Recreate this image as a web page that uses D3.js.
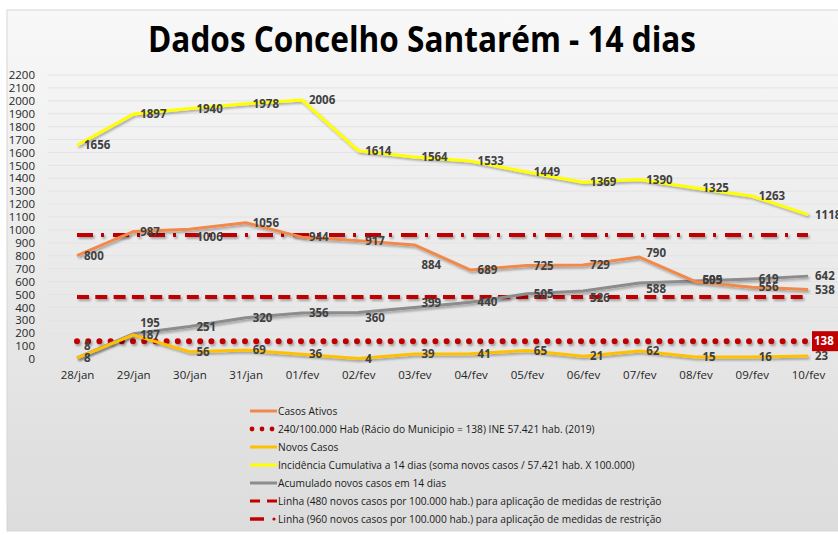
<!DOCTYPE html>
<html>
<head>
<meta charset="utf-8">
<script src="https://cdn.jsdelivr.net/npm/d3@7"></script>
<style>
  html, body { margin: 0; padding: 0; background: #fff; }
  svg { display: block; }
  text { font-family: "Open Sans", sans-serif; }
</style>
</head>
<body>
<svg width="838" height="535"></svg>
<script>
var dias = ["28/jan","29/jan","30/jan","31/jan","01/fev","02/fev","03/fev","04/fev","05/fev","06/fev","07/fev","08/fev","09/fev","10/fev"];
var incidencia = [1656,1897,1940,1978,2006,1614,1564,1533,1449,1369,1390,1325,1263,1118];
var casosAtivos = [800,987,1006,1056,944,917,884,689,725,729,790,599,556,538];
var acumulado = [8,195,251,320,356,360,399,440,505,526,588,605,619,642];
var novosCasos = [8,187,56,69,36,4,39,41,65,21,62,15,16,23];
var yTicks = d3.range(0, 2201, 100);
var racio = 138, linha480 = 480, linha960 = 960;

var legendItems = [
  {kind: "line", color: "#f0894a", text: "Casos Ativos"},
  {kind: "dots", color: "#c00000", text: " 240/100.000 Hab (Rácio do Municipio = 138) INE  57.421 hab. (2019)"},
  {kind: "line", color: "#ffc000", text: "Novos Casos"},
  {kind: "line", color: "#ffff00", text: "Incidência Cumulativa a 14 dias (soma novos casos / 57.421 hab. X 100.000)"},
  {kind: "line", color: "#8c8c8c", text: "Acumulado novos casos em 14 dias"},
  {kind: "dash", color: "#c00000", text: "Linha (480 novos casos por 100.000 hab.) para aplicação de medidas de restrição"},
  {kind: "dashdot", color: "#c00000", text: "Linha (960 novos casos por 100.000 hab.) para aplicação de medidas de restrição"}
];

var svg = d3.select("svg");
var defs = svg.append("defs");

//panel background gradient
var grad = defs.append("linearGradient").attr("id", "bg")
  .attr("x1", 0).attr("y1", 0).attr("x2", 0).attr("y2", 1);
grad.append("stop").attr("offset", "0%").attr("stop-color", "#f8f8f8");
grad.append("stop").attr("offset", "100%").attr("stop-color", "#dcdcdc");

//soft shadow under the lines (user space so flat lines are not clipped)
var shadow = defs.append("filter").attr("id", "sh")
  .attr("filterUnits", "userSpaceOnUse")
  .attr("x", 0).attr("y", 0).attr("width", 838).attr("height", 535);
shadow.append("feDropShadow").attr("dx", 1.5).attr("dy", 2).attr("stdDeviation", 1.2)
  .attr("flood-color", "#000").attr("flood-opacity", 0.3);

svg.append("rect")
  .attr("x", 7).attr("y", 10).attr("width", 840).attr("height", 521)
  .attr("fill", "url(#bg)").attr("stroke", "#d6d6d6");

svg.append("text")
  .attr("x", 422).attr("y", 52)
  .attr("text-anchor", "middle")
  .attr("textLength", 548).attr("lengthAdjust", "spacingAndGlyphs")
  .style("font-size", "35px").style("font-weight", "bold").style("fill", "#000")
  .text("Dados Concelho Santarém - 14 dias");

var x = d3.scalePoint().domain(dias).range([77, 808]);
var y = d3.scaleLinear().domain([0, 2200]).range([359, 75]);

//gridlines
svg.append("g").selectAll("line")
  .data(yTicks.slice(1))
  .enter().append("line")
  .attr("x1", 48).attr("x2", 838)
  .attr("y1", function(d){ return y(d); }).attr("y2", function(d){ return y(d); })
  .attr("stroke", "#e3e3e3").attr("stroke-width", 1);

//y axis labels
var yAxis = svg.append("g").attr("transform", "translate(35,0)")
  .call(d3.axisLeft(y).tickValues(yTicks).tickFormat(d3.format("d")).tickSize(0).tickPadding(0));
yAxis.select(".domain").remove();
yAxis.selectAll("text").style("font-size", "11.5px").style("fill", "#262626")
  .style("font-family", "'Open Sans', sans-serif");

//x axis labels
var xAxis = svg.append("g").attr("transform", "translate(0,371)")
  .call(d3.axisBottom(x).tickSize(0).tickPadding(0));
xAxis.select(".domain").remove();
xAxis.selectAll("text").style("font-size", "11.5px").style("fill", "#262626")
  .style("font-family", "'Open Sans', sans-serif");

//reference lines
function refLine(v, dash, cap, w) {
  svg.append("line")
    .attr("x1", x(dias[0])).attr("x2", x(dias[dias.length - 1]))
    .attr("y1", y(v)).attr("y2", y(v))
    .attr("stroke", "#c00000").attr("stroke-width", w)
    .attr("stroke-dasharray", dash).attr("stroke-linecap", cap)
    .attr("filter", "url(#sh)");
}
refLine(linha960, "16,8,3,9", "butt", 4);
refLine(linha480, "12,6.3", "butt", 4);
refLine(racio, "0,11.2", "round", 6);

var line = d3.line()
  .x(function(d, i){ return x(dias[i]); })
  .y(function(d){ return y(d); });

var series = [
  {name: "acumulado", values: acumulado, color: "#8c8c8c"},
  {name: "ativos", values: casosAtivos, color: "#f0894a"},
  {name: "novos", values: novosCasos, color: "#ffc000"},
  {name: "incidencia", values: incidencia, color: "#ffff00"}
];

series.forEach(function(s){
  svg.append("path")
    .datum(s.values)
    .attr("d", line)
    .attr("fill", "none")
    .attr("stroke", s.color)
    .attr("stroke-width", 3)
    .attr("stroke-linejoin", "round")
    .attr("filter", "url(#sh)");
});

//a few labels were nudged by hand in the original
var nudge = {
  "novos0": -12, "acumulado1": -11, "ativos2": 8, "ativos6": 20, "ativos10": -4,
  "acumulado5": 5, "acumulado6": -5, "acumulado9": 7, "acumulado10": 6,
  "ativos11": -2, "acumulado11": -1
};

//data labels to the right of each point
series.forEach(function(s){
  svg.append("g").selectAll("text")
    .data(s.values)
    .enter().append("text")
    .attr("x", function(d, i){ return x(dias[i]) + 7; })
    .attr("y", function(d, i){ return y(d) + (nudge[s.name + i] || 0); })
    .attr("dy", "0.36em")
    .style("font-size", "11.5px").style("font-weight", "bold").style("fill", "#404040")
    .text(function(d){ return d; });
});

//138 box at right end
svg.append("rect")
  .attr("x", 812).attr("y", y(racio) - 10).attr("width", 27).attr("height", 20)
  .attr("fill", "#c00000");
svg.append("text")
  .attr("x", 814).attr("y", y(racio)).attr("dy", "0.36em")
  .style("font-size", "11.5px").style("font-weight", "bold").style("fill", "#fff")
  .text(racio);

//legend
var legend = svg.append("g").attr("transform", "translate(250,411)");
var rows = legend.selectAll("g")
  .data(legendItems)
  .enter().append("g")
  .attr("transform", function(d, i){ return "translate(0," + (i * 18) + ")"; });

rows.each(function(d){
  var r = d3.select(this);
  if (d.kind === "line") {
    r.append("line").attr("x1", 0).attr("x2", 27).attr("y1", 0).attr("y2", 0)
      .attr("stroke", d.color).attr("stroke-width", 3);
  } else if (d.kind === "dots") {
    [2, 12, 22].forEach(function(cx){
      r.append("circle").attr("cx", cx).attr("cy", 0).attr("r", 2.4).attr("fill", d.color);
    });
  } else if (d.kind === "dash") {
    r.append("line").attr("x1", 0).attr("x2", 27).attr("y1", 0).attr("y2", 0)
      .attr("stroke", d.color).attr("stroke-width", 3).attr("stroke-dasharray", "10,7");
  } else {
    r.append("line").attr("x1", 0).attr("x2", 14).attr("y1", 0).attr("y2", 0)
      .attr("stroke", d.color).attr("stroke-width", 3.5);
    r.append("circle").attr("cx", 24).attr("cy", 0).attr("r", 1.6).attr("fill", d.color);
  }
  r.append("text").attr("x", 28).attr("y", 0).attr("dy", "0.35em")
    .style("font-size", "10.2px").style("fill", "#1a1a1a")
    .text(d.text);
});
</script>
</body>
</html>
